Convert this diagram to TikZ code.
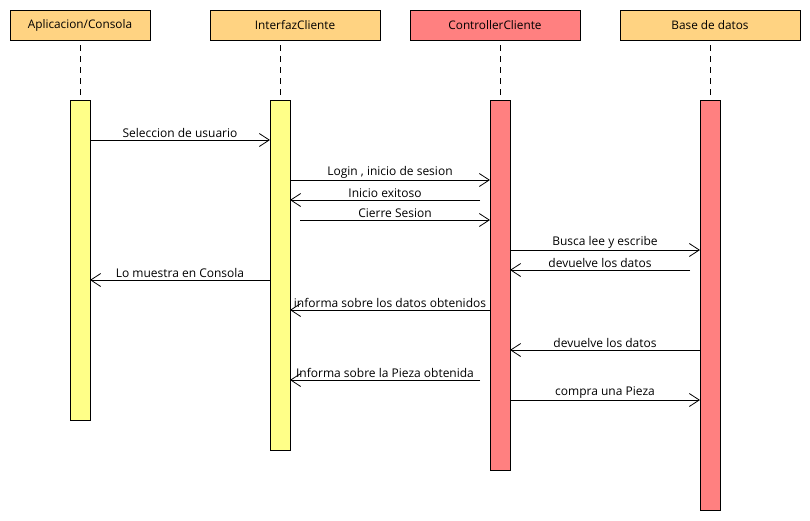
\documentclass[tikz,border=0pt]{standalone}
\usepackage{fontspec}
\setmainfont{Open Sans}
\usetikzlibrary{arrows.meta,calc}
\definecolor{hdr}{HTML}{FFD382}
\definecolor{ylw}{HTML}{FFFF88}
\definecolor{rd}{HTML}{FF8080}
\begin{document}
\begin{tikzpicture}[x=1pt,y=-1pt,
  hdrbox/.style={draw=black,line width=0.9pt,minimum height=30pt,inner sep=0pt,font=\fontsize{11.8}{13}\selectfont},
  actbar/.style={draw=black,line width=0.9pt,minimum width=20pt,inner sep=0pt,anchor=north},
  life/.style={dash pattern=on 6pt off 5pt,line width=0.8pt},
  msg/.style={line width=0.8pt,-{Straight Barb[length=10pt,width=13pt,line width=0.8pt]}},
  lbl/.style={above=0.5pt,font=\fontsize{12}{13}\selectfont,inner sep=1pt}]
\useasboundingbox (0,0) rectangle (810,520);
\fill[white] (0,0) rectangle (810,520);
% headers
\node[hdrbox,fill=hdr,minimum width=140pt] (h1) at (80,25) {Aplicacion/Consola};
\node[hdrbox,fill=hdr,minimum width=170pt] (h2) at (295,25) {InterfazCliente};
\node[hdrbox,fill=rd,minimum width=170pt] (h3) at (495,25) {ControllerCliente};
\node[hdrbox,fill=hdr,minimum width=180pt] (h4) at (710,25) {Base de datos};
% bars
\node[actbar,fill=ylw,minimum height=320pt] (b1) at (80,100) {};
\node[actbar,fill=ylw,minimum height=350pt] (b2) at (280,100) {};
\node[actbar,fill=rd,minimum height=370pt] (b3) at (500,100) {};
\node[actbar,fill=rd,minimum height=410pt] (b4) at (710,100) {};
% lifelines
\coordinate (l1) at (80,45);
\coordinate (l2) at (280,45);
\coordinate (l3) at (500,45);
\coordinate (l4) at (710,45);
\draw[life] (l1) -- (b1.north);
\draw[life] (l2) -- (b2.north);
\draw[life] (l3) -- (b3.north);
\draw[life] (l4) -- (b4.north);
% endpoints
\coordinate (m1s) at (90,140);  \coordinate (m1e) at (270,140);
\coordinate (m2s) at (290,180); \coordinate (m2e) at (490,180);
\coordinate (m3s) at (480,200); \coordinate (m3e) at (290,200);
\coordinate (m4s) at (300,220); \coordinate (m4e) at (490,220);
\coordinate (m5s) at (510,250); \coordinate (m5e) at (700,250);
\coordinate (m6s) at (690,270); \coordinate (m6e) at (510,270);
\coordinate (m7s) at (270,280); \coordinate (m7e) at (90,280);
\coordinate (m8s) at (490,310); \coordinate (m8e) at (290,310);
\coordinate (m9s) at (700,350); \coordinate (m9e) at (510,350);
\coordinate (m10s) at (480,380); \coordinate (m10e) at (290,380);
\coordinate (m11s) at (510,400); \coordinate (m11e) at (700,400);
% messages
\draw[msg] (m1s) -- node[lbl] (t1) {Seleccion de usuario} (m1e);
\draw[msg] (m2s) -- node[lbl] (t2) {Login , inicio de sesion} (m2e);
\draw[msg] (m3s) -- node[lbl] (t3) {Inicio exitoso} (m3e);
\draw[msg] (m4s) -- node[lbl] (t4) {Cierre Sesion} (m4e);
\draw[msg] (m5s) -- node[lbl] (t5) {Busca lee y escribe} (m5e);
\draw[msg] (m6s) -- node[lbl] (t6) {devuelve los datos} (m6e);
\draw[msg] (m7s) -- node[lbl] (t7) {Lo muestra en Consola} (m7e);
\draw[msg] (m8s) -- node[lbl] (t8) {informa sobre los datos obtenidos} (m8e);
\draw[msg] (m9s) -- node[lbl] (t9) {devuelve los datos} (m9e);
\draw[msg] (m10s) -- node[lbl] (t10) {Informa sobre la Pieza obtenida} (m10e);
\draw[msg] (m11s) -- node[lbl] (t11) {compra una Pieza} (m11e);
\end{tikzpicture}
\end{document}
